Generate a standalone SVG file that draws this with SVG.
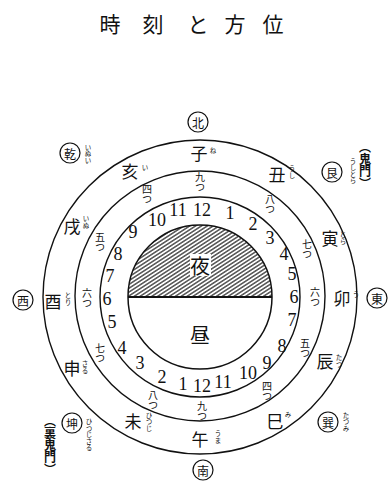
<svg xmlns="http://www.w3.org/2000/svg" width="389" height="484" viewBox="0 0 389 484">
<style>
.ring{fill:none;stroke:#111;stroke-width:1.4}
.jp{font-family:"Noto Sans CJK JP","Noto Sans CJK SC",sans-serif;fill:#111;text-anchor:middle;dominant-baseline:central}
.title{font-size:21px}
.br{font-size:17px}
.dir{font-size:12px}
.num{font-family:"Liberation Serif",serif;font-size:18px;fill:#111;text-anchor:middle;dominant-baseline:central}
.vt{font-family:"Noto Sans CJK JP","Noto Sans CJK SC",sans-serif;fill:#111;text-anchor:middle;writing-mode:vertical-rl}
.tm{font-size:10px}
.rb{font-size:6.5px}
.km{font-size:12px;font-weight:bold}
.dc{fill:#fff;stroke:#111;stroke-width:1.2}
</style>
<defs>
<pattern id="hatch" patternUnits="userSpaceOnUse" width="3.2" height="3.2" patternTransform="rotate(-33)">
<line x1="0" y1="1.6" x2="3.2" y2="1.6" stroke="#111" stroke-width="1.1"/>
</pattern>
</defs>
<rect width="389" height="484" fill="#fff"/>
<g id="title">
<text class="jp title" x="110" y="23">時</text>
<text class="jp title" x="153" y="23">刻</text>
<text class="jp title" x="198" y="23">と</text>
<text class="jp title" x="235" y="23">方</text>
<text class="jp title" x="273" y="23">位</text>
</g>
<g id="connectors">
<circle class="ring" cx="200" cy="297" r="157"/>
<circle class="ring" cx="200" cy="296" r="125"/>
<circle class="ring" cx="200" cy="297" r="100"/>
</g>
<g id="core">
<path d="M128,297 A72,72 0 0 1 272,297 Z" fill="url(#hatch)"/>
<rect x="190" y="254" width="21" height="22" fill="#fff"/>
<circle cx="200" cy="297" r="72" fill="none" stroke="#111" stroke-width="1.5"/>
<line x1="128" y1="297" x2="272" y2="297" stroke="#111" stroke-width="2"/>
<text class="jp" x="200" y="265" font-size="20">夜</text>
<text class="jp" x="200" y="334" font-size="20">昼</text>
</g>
<g id="hours">
<text class="num" x="202" y="210">12</text>
<text class="num" x="230" y="213">1</text>
<text class="num" x="253" y="224">2</text>
<text class="num" x="270" y="238">3</text>
<text class="num" x="284" y="254">4</text>
<text class="num" x="292" y="274">5</text>
<text class="num" x="294" y="297">6</text>
<text class="num" x="292" y="320">7</text>
<text class="num" x="282" y="346">8</text>
<text class="num" x="267" y="363">9</text>
<text class="num" x="248" y="373">10</text>
<text class="num" x="223" y="382">11</text>
<text class="num" x="202" y="386">12</text>
<text class="num" x="183" y="384">1</text>
<text class="num" x="162" y="377">2</text>
<text class="num" x="140" y="363">3</text>
<text class="num" x="122" y="348">4</text>
<text class="num" x="112" y="322">5</text>
<text class="num" x="107" y="299">6</text>
<text class="num" x="110" y="276">7</text>
<text class="num" x="118" y="254">8</text>
<text class="num" x="133" y="232">9</text>
<text class="num" x="157" y="220">10</text>
<text class="num" x="178" y="210">11</text>
</g>
<g id="times">
<text class="vt tm" x="200" y="182">九つ</text>
<text class="vt tm" x="147" y="194">四つ</text>
<text class="vt tm" x="270" y="204">八つ</text>
<text class="vt tm" x="307" y="249">七つ</text>
<text class="vt tm" x="315" y="297">六つ</text>
<text class="vt tm" x="305" y="348">五つ</text>
<text class="vt tm" x="267" y="391">四つ</text>
<text class="vt tm" x="202" y="411">九つ</text>
<text class="vt tm" x="153" y="400">八つ</text>
<text class="vt tm" x="100" y="353">七つ</text>
<text class="vt tm" x="87" y="298">六つ</text>
<text class="vt tm" x="100" y="242">五つ</text>
</g>
<g id="branches">
<text class="jp br" x="199" y="152">子</text><text class="vt rb" x="213" y="151">ね</text>
<text class="jp br" x="277" y="173">丑</text><text class="vt rb" x="292" y="172">うし</text>
<text class="jp br" x="330" y="237">寅</text><text class="vt rb" x="343" y="238">とら</text>
<text class="jp br" x="342" y="297">卯</text><text class="vt rb" x="356" y="295">う</text>
<text class="jp br" x="325" y="360">辰</text><text class="vt rb" x="339" y="361">たつ</text>
<text class="jp br" x="275" y="420">巳</text><text class="vt rb" x="288" y="415">み</text>
<text class="jp br" x="200" y="438">午</text><text class="vt rb" x="218" y="437">うま</text>
<text class="jp br" x="133" y="420">未</text><text class="vt rb" x="149" y="422">ひつじ</text>
<text class="jp br" x="72" y="367">申</text><text class="vt rb" x="85" y="367">さる</text>
<text class="jp br" x="53" y="300">酉</text><text class="vt rb" x="68" y="299">とり</text>
<text class="jp br" x="72" y="225">戌</text><text class="vt rb" x="86" y="222">いぬ</text>
<text class="jp br" x="130" y="170">亥</text><text class="vt rb" x="145" y="168">い</text>
</g>
<g id="dir-north"><circle class="dc" cx="198" cy="122" r="10"/><text class="jp dir" x="198" y="122">北</text></g>
<g id="dir-northwest"><circle class="dc" cx="70" cy="153" r="10"/><text class="jp dir" x="70" y="153">乾</text><text class="vt rb" x="88" y="154">いぬい</text></g>
<g id="dir-northeast"><circle class="dc" cx="332" cy="172" r="10"/><text class="jp dir" x="332" y="172">艮</text><text class="vt rb" x="353" y="171">うしとら</text><text class="vt km" x="365" y="165">（鬼門）</text></g>
<g id="dir-west"><circle class="dc" cx="23" cy="300" r="10"/><text class="jp dir" x="23" y="300">西</text></g>
<g id="dir-east"><circle class="dc" cx="377" cy="298" r="10"/><text class="jp dir" x="377" y="298">東</text></g>
<g id="dir-south"><circle class="dc" cx="203" cy="470" r="10"/><text class="jp dir" x="203" y="470">南</text></g>
<g id="dir-southwest"><circle class="dc" cx="72" cy="423" r="10"/><text class="jp dir" x="72" y="423">坤</text><text class="vt rb" x="89" y="435">ひつじさる</text><text class="vt km" x="50" y="445">（裏鬼門）</text></g>
<g id="dir-southeast"><circle class="dc" cx="328" cy="422" r="10"/><text class="jp dir" x="328" y="422">巽</text><text class="vt rb" x="346" y="422">たつみ</text></g>
</svg>
